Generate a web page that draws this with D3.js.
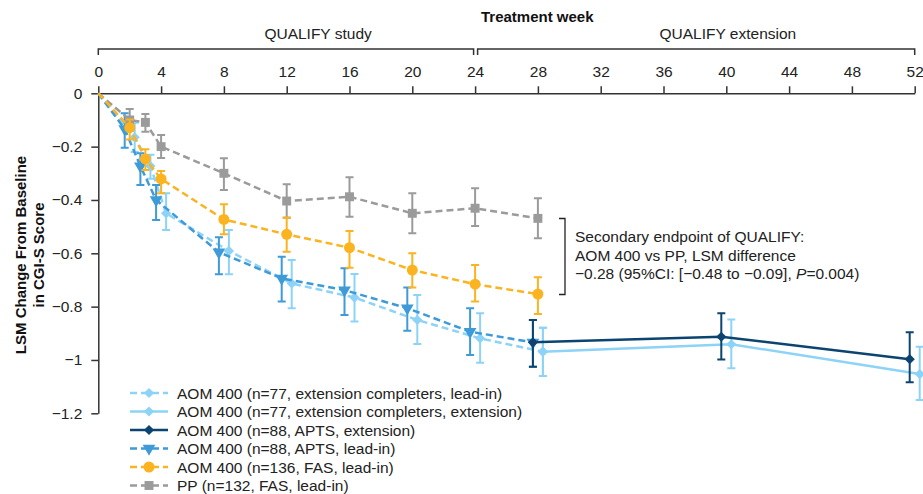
<!DOCTYPE html>
<html lang="en">
<head>
<meta charset="utf-8">
<title>CGI-S change from baseline</title>
<script src="https://d3js.org/d3.v7.min.js"></script>
<style>
  body { margin: 0; background: #fff; }
  svg { display: block; font-family: "Liberation Sans", Arial, sans-serif; }
  .axis text { font-size: 15.5px; fill: #222; }
  .axis path, .axis line { stroke: #333; stroke-width: 1.5; }
</style>
</head>
<body>
<div id="chart"></div>
<script>
// weeks
var leadWeeks = [0, 2, 3, 4, 8, 12, 16, 20, 24, 28];
var extWeeks = [28, 40, 52];
var weekTicks = [0, 4, 8, 12, 16, 20, 24, 28, 32, 36, 40, 44, 48, 52];
var yTicks = [0, -0.2, -0.4, -0.6, -0.8, -1, -1.2];

// PP (n=132, FAS, lead-in)
var ppMean = [0, -0.10, -0.109, -0.20, -0.30, -0.404, -0.388, -0.45, -0.431, -0.469];
var ppHi   = [null, -0.059, -0.078, -0.156, -0.244, -0.341, -0.315, -0.375, -0.356, -0.394];
var ppLo   = [null, -0.141, -0.144, -0.243, -0.363, -0.467, -0.463, -0.525, -0.498, -0.544];

// AOM 400 (n=136, FAS, lead-in)
var fasMean = [0, -0.129, -0.246, -0.321, -0.473, -0.529, -0.579, -0.663, -0.716, -0.753];
var fasHi   = [null, -0.098, -0.21, -0.291, -0.416, -0.466, -0.516, -0.60, -0.644, -0.69];
var fasLo   = [null, -0.173, -0.288, -0.375, -0.529, -0.594, -0.654, -0.728, -0.781, -0.828];

// AOM 400 (n=88, APTS, lead-in)
var aptsMean = [0, -0.134, -0.273, -0.40, -0.596, -0.694, -0.738, -0.806, -0.894, -0.934];
var aptsHi   = [null, -0.075, -0.225, -0.344, -0.54, -0.613, -0.656, -0.728, -0.806, -0.85];
var aptsLo   = [null, -0.204, -0.344, -0.475, -0.679, -0.781, -0.831, -0.89, -0.981, -1.025];

// AOM 400 (n=88, APTS, extension)
var aptsExtMean = [-0.934, -0.913, -0.997];
var aptsExtHi   = [-0.85, -0.825, -0.896];
var aptsExtLo   = [-1.025, -0.998, -1.084];

// AOM 400 (n=77, extension completers, lead-in)
var compMean = [0, -0.165, -0.273, -0.45, -0.591, -0.713, -0.766, -0.85, -0.919, -0.969];
var compHi   = [null, -0.11, -0.23, -0.375, -0.513, -0.625, -0.678, -0.756, -0.825, -0.879];
var compLo   = [null, -0.22, -0.32, -0.513, -0.679, -0.806, -0.856, -0.94, -1.01, -1.06];

// AOM 400 (n=77, extension completers, extension)
var compExtMean = [-0.969, -0.941, -1.053];
var compExtHi   = [-0.879, -0.848, -0.95];
var compExtLo   = [-1.06, -1.031, -1.15];

var legendLabels = [
  "AOM 400 (n=77, extension completers, lead-in)",
  "AOM 400 (n=77, extension completers, extension)",
  "AOM 400 (n=88, APTS, extension)",
  "AOM 400 (n=88, APTS, lead-in)",
  "AOM 400 (n=136, FAS, lead-in)",
  "PP (n=132, FAS, lead-in)"
];

var lightBlue = "#8dd3f8", midBlue = "#3e9bd8", navy = "#0b4470",
    orange = "#fbb320", grey = "#9b9b9b";

function rows(weeks, mean, hi, lo) {
  return weeks.map(function(w, i) { return {w: w, v: mean[i], hi: hi[i], lo: lo[i]}; });
}

// series listed in legend order; draw order set separately
var series = [
  {label: legendLabels[0], data: rows(leadWeeks, compMean, compHi, compLo), color: lightBlue, dash: true, shape: "diamond", dx: 5},
  {label: legendLabels[1], data: rows(extWeeks, compExtMean, compExtHi, compExtLo), color: lightBlue, dash: false, shape: "diamond", dx: 5},
  {label: legendLabels[2], data: rows(extWeeks, aptsExtMean, aptsExtHi, aptsExtLo), color: navy, dash: false, shape: "diamond", dx: -5},
  {label: legendLabels[3], data: rows(leadWeeks, aptsMean, aptsHi, aptsLo), color: midBlue, dash: true, shape: "triangle", dx: -5},
  {label: legendLabels[4], data: rows(leadWeeks, fasMean, fasHi, fasLo), color: orange, dash: true, shape: "circle", dx: 0},
  {label: legendLabels[5], data: rows(leadWeeks, ppMean, ppHi, ppLo), color: grey, dash: true, shape: "square", dx: 0}
];
var drawOrder = [0, 3, 1, 2, 5, 4];

var W = 923, H = 494;
var svg = d3.select("#chart").append("svg").attr("width", W).attr("height", H);

var x = d3.scaleLinear().domain([0, 52]).range([98.3, 914.7]);
var y = d3.scaleLinear().domain([0, -1.2]).range([93.3, 413.3]);

// top axis
svg.append("g").attr("class", "axis")
  .attr("transform", "translate(0," + y(0) + ")")
  .call(d3.axisTop(x).tickValues(weekTicks).tickSize(7).tickSizeOuter(0).tickPadding(9));

// left axis
var fmt = function(d) { return d === 0 ? "0" : "\u2212" + Math.abs(d); };
svg.append("g").attr("class", "axis")
  .attr("transform", "translate(" + x(0) + ",0)")
  .call(d3.axisLeft(y).tickValues(yTicks).tickFormat(fmt).tickSize(7).tickSizeOuter(0).tickPadding(9));

// axis titles
svg.append("text").attr("x", 481).attr("y", 22)
  .style("font-size", "15px").style("font-weight", "bold").style("fill", "#111")
  .text("Treatment week");

var yt = svg.append("text").attr("transform", "translate(26,255) rotate(-90)")
  .attr("text-anchor", "middle").style("font-size", "15px").style("font-weight", "bold").style("fill", "#111");
yt.append("tspan").attr("x", 0).attr("dy", 0).text("LSM Change From Baseline");
yt.append("tspan").attr("x", 0).attr("dy", 18).text("in CGI-S Score");

// study period brackets
var periods = [
  {label: "QUALIFY study", x0: x(0), x1: x(24) - 1.5, lx: x(14)},
  {label: "QUALIFY extension", x0: x(24) + 2.5, x1: x(52), lx: x(40.1)}
];
periods.forEach(function(p) {
  svg.append("path")
    .attr("d", "M" + p.x0 + ",55V49H" + p.x1 + "V55")
    .attr("fill", "none").attr("stroke", "#333").attr("stroke-width", 1.5);
  svg.append("text").attr("x", p.lx).attr("y", 39).attr("text-anchor", "middle")
    .style("font-size", "15.5px").style("fill", "#222").text(p.label);
});

// marker shapes
function markerPath(shape) {
  if (shape === "diamond") return d3.symbol(d3.symbolSquare, 52)();
  if (shape === "triangle") return d3.symbol(d3.symbolTriangle, 70)();
  if (shape === "circle") return d3.symbol(d3.symbolCircle, 95)();
  return d3.symbol(d3.symbolSquare, 80)();
}
function markerRot(shape) {
  if (shape === "diamond") return " rotate(45)";
  if (shape === "triangle") return " rotate(180)";
  return "";
}

var line = d3.line().x(function(d) { return d.px; }).y(function(d) { return y(d.v); });

drawOrder.forEach(function(k) {
  var s = series[k];
  var pts = s.data.map(function(d) { return Object.assign({px: x(d.w) + (d.w === 0 ? 0 : s.dx)}, d); });
  var g = svg.append("g");

  g.append("path").datum(pts).attr("d", line)
    .attr("fill", "none").attr("stroke", s.color).attr("stroke-width", 2.5)
    .attr("stroke-dasharray", s.dash ? "7,4" : null);

  var eb = pts.filter(function(d) { return d.hi !== null; });
  g.selectAll(".eb").data(eb).enter().append("path")
    .attr("d", function(d) {
      var a = y(d.hi), b = y(d.lo);
      return "M" + (d.px - 4) + "," + a + "H" + (d.px + 4) + "M" + d.px + "," + a + "V" + b +
             "M" + (d.px - 4) + "," + b + "H" + (d.px + 4);
    })
    .attr("fill", "none").attr("stroke", s.color).attr("stroke-width", 2);

  g.selectAll(".mk").data(eb).enter().append("path")
    .attr("d", markerPath(s.shape))
    .attr("transform", function(d) { return "translate(" + d.px + "," + y(d.v) + ")" + markerRot(s.shape); })
    .attr("fill", s.color);
});

// annotation
svg.append("path").attr("d", "M559,218.5H565V294.5H559")
  .attr("fill", "none").attr("stroke", "#222").attr("stroke-width", 1.3);
var ann = svg.append("text").attr("x", 575).attr("y", 242).style("font-size", "15.5px").style("fill", "#222");
ann.append("tspan").attr("x", 575).attr("dy", 0).text("Secondary endpoint of QUALIFY:");
ann.append("tspan").attr("x", 575).attr("dy", 18.5).text("AOM 400 vs PP, LSM difference");
ann.append("tspan").attr("x", 575).attr("dy", 18.5).text("\u22120.28 (95%CI: [\u22120.48 to \u22120.09], ");
ann.append("tspan").style("font-style", "italic").text("P");
ann.append("tspan").text("=0.004)");

// legend
var legend = svg.append("g").attr("transform", "translate(130,393)");
series.forEach(function(s, i) {
  var r = legend.append("g").attr("transform", "translate(0," + (i * 18.5) + ")");
  r.append("line").attr("x1", 0).attr("x2", 38).attr("y1", 0).attr("y2", 0)
    .attr("stroke", s.color).attr("stroke-width", 2.5).attr("stroke-dasharray", s.dash ? "7,4" : null);
  r.append("path").attr("d", markerPath(s.shape))
    .attr("transform", "translate(19,0)" + markerRot(s.shape)).attr("fill", s.color);
  r.append("text").attr("x", 47).attr("y", 5.5).style("font-size", "15.5px").style("fill", "#222").text(s.label);
});
</script>
</body>
</html>
